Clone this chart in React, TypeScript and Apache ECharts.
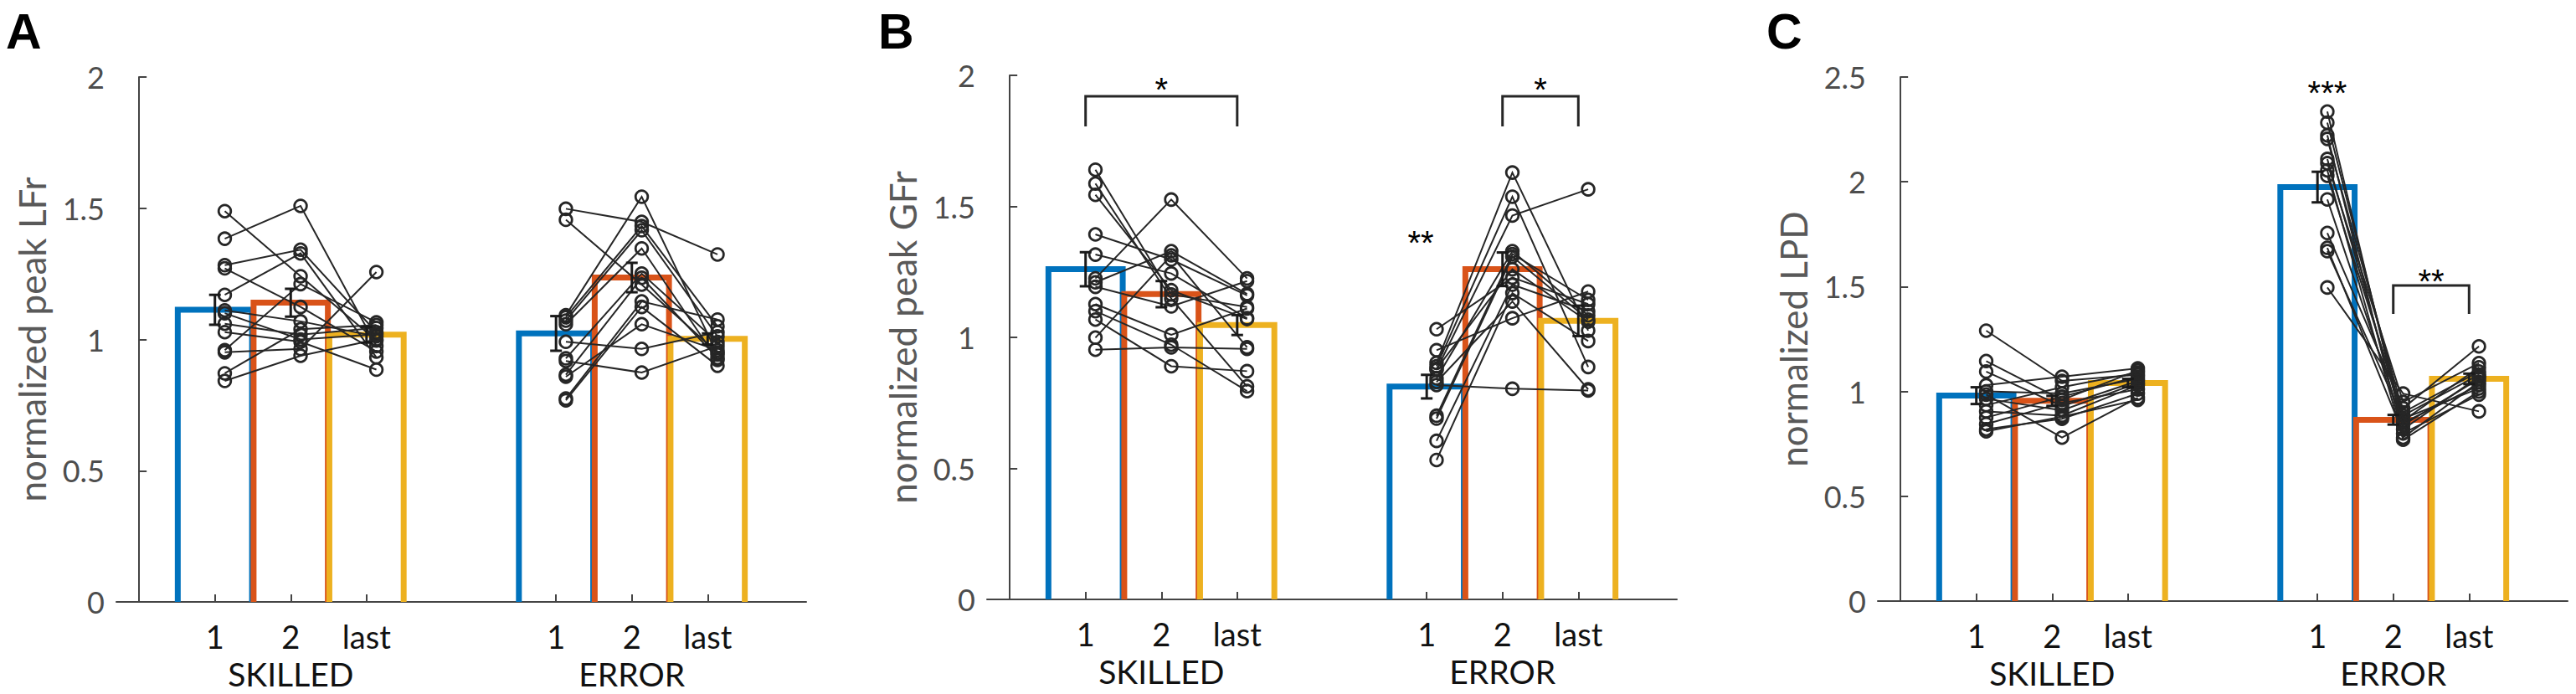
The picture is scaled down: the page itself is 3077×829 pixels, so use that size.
import React, { useEffect, useRef } from 'react';
import * as echarts from 'echarts';

// ---------- axis / category definitions ----------
const tickPositions = [1, 2, 3, 5.5, 6.5, 7.5];
const tickLabels = ['1', '2', 'last', '1', '2', 'last'];
const groupPositions = [2, 6.5];
const groupLabels = ['SKILLED', 'ERROR'];
const yLabels = ['normalized peak LFr', 'normalized peak GFr', 'normalized LPD'];
const panelLetters = ['A', 'B', 'C'];
const yMaxes = [2, 2, 2.5];

// ---------- bar means (SKILLED 1, 2, last, ERROR 1, 2, last) ----------
const barsA = [1.113, 1.14, 1.018, 1.023, 1.236, 1.002];
const semA = [0.057, 0.053, 0.03, 0.066, 0.056, 0.021];
const barsB = [1.26, 1.165, 1.047, 0.812, 1.26, 1.063];
const semB = [0.065, 0.05, 0.038, 0.045, 0.064, 0.058];
const barsC = [0.98, 0.955, 1.04, 1.975, 0.865, 1.06];
const semC = [0.04, 0.024, 0.02, 0.073, 0.023, 0.025];

// ---------- individual subjects: [1, 2, last] ----------
const subjA_skilled = [
  [1.489, 1.241, 0.996], [1.384, 1.509, 0.975], [1.283, 1.342, 1.028], [1.271, 1.124, 0.954],
  [1.17, 1.328, 0.932], [1.111, 1.069, 1.012], [1.06, 1.018, 1.044], [1.028, 0.991, 0.885],
  [0.959, 1.211, 1.065], [0.951, 0.964, 1.257], [0.871, 1.039, 1.055], [0.842, 0.938, 1.0],
  [1.1, 1.0, 1.02],
];
const subjA_error = [
  [1.498, 1.448, 1.324], [1.456, 1.209, 0.95], [1.092, 1.544, 0.943], [1.085, 1.432, 1.05],
  [1.072, 1.416, 1.012], [1.058, 1.347, 0.922], [0.991, 0.964, 1.028], [0.928, 1.251, 0.99],
  [0.918, 0.874, 0.975], [0.866, 1.235, 0.93], [0.858, 1.058, 0.959], [0.775, 1.145, 1.076],
  [0.768, 1.124, 0.9],
];
const subjB_skilled = [
  [1.64, 1.164, 1.116], [1.587, 1.148, 0.813], [1.544, 1.18, 1.07], [1.393, 1.297, 1.16],
  [1.316, 1.244, 1.073], [1.225, 1.526, 1.225], [1.21, 1.329, 1.166], [1.193, 1.118, 1.215],
  [1.127, 1.01, 1.11], [1.1, 0.972, 0.795], [1.068, 0.89, 0.871], [0.999, 1.313, 0.962],
  [0.953, 0.962, 0.956],
];
const subjB_error = [
  [1.031, 1.228, 1.127], [0.951, 1.073, 1.175], [0.903, 1.629, 1.026], [0.89, 1.537, 0.887],
  [0.876, 1.465, 1.565], [0.844, 1.329, 1.084], [0.818, 0.804, 0.797], [0.701, 1.318, 1.143],
  [0.69, 1.308, 1.068], [0.605, 1.201, 1.1], [0.532, 1.169, 0.986], [0.88, 1.26, 1.06],
  [0.83, 1.137, 0.802],
];
const subjC_skilled = [
  [1.29, 1.05, 1.08], [1.145, 0.96, 1.1], [1.095, 0.93, 1.05], [1.03, 1.07, 1.11],
  [1.0, 0.99, 1.06], [0.985, 0.78, 0.97], [0.965, 0.91, 1.04], [0.935, 1.02, 1.09],
  [0.905, 0.885, 1.03], [0.875, 0.975, 1.07], [0.845, 0.945, 1.01], [0.82, 0.87, 0.99],
  [0.81, 0.88, 0.96],
];
const subjC_error = [
  [2.335, 0.82, 1.07], [2.282, 0.86, 1.115], [2.222, 0.78, 1.045], [2.205, 0.9, 1.095],
  [2.109, 0.85, 1.03], [2.089, 0.95, 1.135], [2.055, 0.77, 1.0], [2.029, 0.885, 1.08],
  [1.916, 0.84, 1.06], [1.756, 0.92, 1.215], [1.685, 0.8, 0.985], [1.669, 0.87, 1.015],
  [1.496, 0.99, 0.905],
];

// ---------- significance marks ----------
// brackets: [x from, x to, top, leg bottom]
const bracketsA: number[][] = [];
const bracketsB = [[1, 3, 1.92, 1.805], [6.5, 7.5, 1.92, 1.805]];
const bracketsC = [[6.5, 7.5, 1.506, 1.37]];
// stars: [x, y]
const starPosA: number[][] = [];
const starTextA: string[] = [];
const starPosB = [[2, 1.946], [7, 1.946], [5.42, 1.361]];
const starTextB = ['*', '*', '**'];
const starPosC = [[5.63, 2.424], [7, 1.526]];
const starTextC = ['***', '**'];

const barColors = ['#0072BD', '#D95319', '#EDB120'];
const pointOffset = 0.13;
const barWidth = 0.98;

const panels = [
  { bars: barsA, sem: semA, sk: subjA_skilled, er: subjA_error, br: bracketsA, sp: starPosA, st: starTextA },
  { bars: barsB, sem: semB, sk: subjB_skilled, er: subjB_error, br: bracketsB, sp: starPosB, st: starTextB },
  { bars: barsC, sem: semC, sk: subjC_skilled, er: subjC_error, br: bracketsC, sp: starPosC, st: starTextC },
];

const grids = [
  { left: 139, top: 92, width: 824, height: 627 },
  { left: 1179, top: 90, width: 824, height: 626 },
  { left: 2243, top: 92, width: 824, height: 626 },
];
const letterX = [7, 1049, 2110];

const axisColor = '#444444';
const inkColor = '#262626';

function labelAt(values: number[], labels: string[], v: number) {
  for (let i = 0; i < values.length; i++) if (Math.abs(values[i] - v) < 1e-6) return labels[i];
  return '';
}

export default function App() {
  const ref = useRef<HTMLDivElement>(null);
  useEffect(() => {
    document.body.style.margin = '0';
    if (!ref.current) return;
    const chart = echarts.init(ref.current, null, { renderer: 'svg' });

    const xAxis: any[] = [];
    const yAxis: any[] = [];
    const series: any[] = [];

    panels.forEach((p, i) => {
      xAxis.push({
        gridIndex: i, type: 'value', min: -0.3, max: 8.8, position: 'bottom',
        axisLine: { show: true, lineStyle: { color: axisColor, width: 2 } },
        axisTick: { show: true, inside: true, length: 9, customValues: tickPositions, lineStyle: { color: axisColor, width: 2 } },
        axisLabel: {
          show: true, customValues: tickPositions, margin: 22,
          formatter: (v: number) => labelAt(tickPositions, tickLabels, v),
          color: '#111111', fontSize: 38, fontFamily: 'Lato',
        },
        splitLine: { show: false },
      });
      xAxis.push({
        gridIndex: i, type: 'value', min: -0.3, max: 8.8, position: 'bottom',
        axisLine: { show: false }, axisTick: { show: false },
        axisLabel: {
          show: true, customValues: groupPositions, margin: 66,
          formatter: (v: number) => labelAt(groupPositions, groupLabels, v),
          color: '#111111', fontSize: 39, fontFamily: 'Lato', lineHeight: 39,
        },
        splitLine: { show: false },
      });
      yAxis.push({
        gridIndex: i, type: 'value', min: 0, max: yMaxes[i], interval: 0.5,
        axisLine: { show: true, lineStyle: { color: axisColor, width: 2 } },
        axisTick: { show: true, inside: true, length: 9, lineStyle: { color: axisColor, width: 2 } },
        axisLabel: { color: '#4d4d4d', fontSize: 36, fontFamily: 'Lato', margin: 14 },
        splitLine: { show: false },
        name: yLabels[i], nameLocation: 'middle', nameGap: 79, nameRotate: 90,
        nameTextStyle: { color: '#595959', fontSize: 44, fontFamily: 'Lato' },
      });

      const xi = i * 2;
      // bars
      series.push({
        type: 'custom', xAxisIndex: xi, yAxisIndex: i, clip: false,
        data: p.bars.map((v, k) => [tickPositions[k], v, k % 3]),
        renderItem: (params: any, api: any) => {
          const x = api.value(0), v = api.value(1), c = api.value(2);
          const a = api.coord([x - barWidth / 2, 0]);
          const b = api.coord([x - barWidth / 2, v]);
          const d = api.coord([x + barWidth / 2, v]);
          const e = api.coord([x + barWidth / 2, 0]);
          return {
            type: 'polyline',
            shape: { points: [a, b, d, e] },
            style: { stroke: barColors[c], lineWidth: 7, fill: 'none', lineJoin: 'miter' },
          };
        },
      });
      // subjects
      const subj = [
        ...p.sk.map((s) => [tickPositions[0], s[0], tickPositions[1], s[1], tickPositions[2], s[2]]),
        ...p.er.map((s) => [tickPositions[3], s[0], tickPositions[4], s[1], tickPositions[5], s[2]]),
      ];
      series.push({
        type: 'custom', xAxisIndex: xi, yAxisIndex: i, clip: false,
        data: subj,
        renderItem: (params: any, api: any) => {
          const pts = [0, 1, 2].map((k) => api.coord([api.value(2 * k) + pointOffset, api.value(2 * k + 1)]));
          return {
            type: 'group',
            children: [
              { type: 'polyline', shape: { points: pts }, style: { stroke: inkColor, lineWidth: 2, fill: 'none' } },
              ...pts.map((q: number[]) => ({
                type: 'circle', shape: { cx: q[0], cy: q[1], r: 7.3 },
                style: { stroke: inkColor, lineWidth: 2.8, fill: 'none' },
              })),
            ],
          };
        },
      });
      // error bars
      series.push({
        type: 'custom', xAxisIndex: xi, yAxisIndex: i, clip: false,
        data: p.bars.map((v, k) => [tickPositions[k], v, p.sem[k]]),
        renderItem: (params: any, api: any) => {
          const x = api.value(0), v = api.value(1), s = api.value(2);
          const lo = api.coord([x, v - s]);
          const hi = api.coord([x, v + s]);
          const cap = 7;
          const st = { stroke: '#1a1a1a', lineWidth: 3 };
          return {
            type: 'group',
            children: [
              { type: 'line', shape: { x1: lo[0], y1: lo[1], x2: hi[0], y2: hi[1] }, style: st },
              { type: 'line', shape: { x1: lo[0] - cap, y1: lo[1], x2: lo[0] + cap, y2: lo[1] }, style: st },
              { type: 'line', shape: { x1: hi[0] - cap, y1: hi[1], x2: hi[0] + cap, y2: hi[1] }, style: st },
            ],
          };
        },
      });
      // brackets
      if (p.br.length) {
        series.push({
          type: 'custom', xAxisIndex: xi, yAxisIndex: i, clip: false,
          data: p.br,
          renderItem: (params: any, api: any) => {
            const x1 = api.value(0), x2 = api.value(1), t = api.value(2), b = api.value(3);
            return {
              type: 'polyline',
              shape: { points: [api.coord([x1, b]), api.coord([x1, t]), api.coord([x2, t]), api.coord([x2, b])] },
              style: { stroke: inkColor, lineWidth: 3, fill: 'none' },
            };
          },
        });
      }
      // stars
      if (p.sp.length) {
        const texts = p.st;
        series.push({
          type: 'custom', xAxisIndex: xi, yAxisIndex: i, clip: false,
          data: p.sp,
          renderItem: (params: any, api: any) => {
            const q = api.coord([api.value(0), api.value(1)]);
            return {
              type: 'text', x: q[0], y: q[1],
              style: {
                text: texts[params.dataIndex], fill: '#000',
                font: '40px "Liberation Sans", Arial, sans-serif',
                align: 'center', verticalAlign: 'middle',
              },
            };
          },
        });
      }
    });

    chart.setOption({
      animation: false,
      backgroundColor: '#ffffff',
      grid: grids.map((g) => ({ ...g, containLabel: false, outerBoundsMode: 'none' })),
      xAxis, yAxis, series,
      graphic: panelLetters.map((t, i) => ({
        type: 'text', x: letterX[i], y: 8,
        style: { text: t, fill: '#000', font: 'bold 59px "Liberation Sans", Arial, sans-serif', verticalAlign: 'top' },
      })),
    });
    return () => chart.dispose();
  }, []);
  return <div ref={ref} style={{ width: 3077, height: 829 }} />;
}
